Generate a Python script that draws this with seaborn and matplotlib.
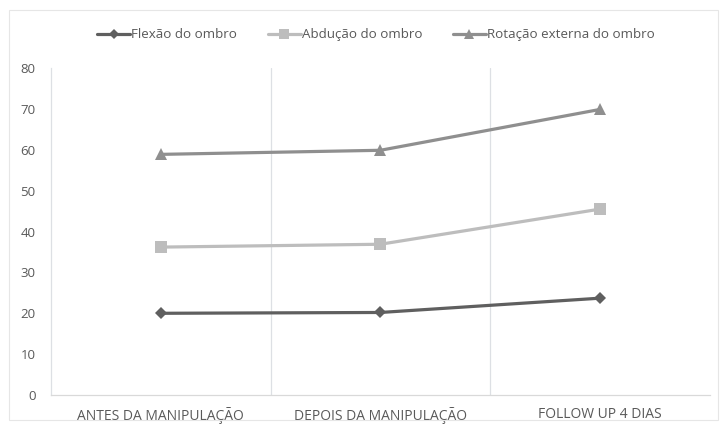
import matplotlib
matplotlib.use("Agg")
import matplotlib.pyplot as plt
from matplotlib.lines import Line2D
import seaborn as sns
import pandas as pd

categories = ["ANTES DA MANIPULAÇÃO", "DEPOIS DA MANIPULAÇÃO", "FOLLOW UP 4 DIAS"]
flexao = [20.0, 20.2, 23.7]
abducao = [36.2, 36.9, 45.5]
rotacao = [58.9, 59.9, 69.9]
series_names = ["Flexão do ombro", "Abdução do ombro", "Rotação externa do ombro"]

rows = []
for name, vals in zip(series_names, [flexao, abducao, rotacao]):
    for i, v in enumerate(vals):
        rows.append({"pos": i, "valor": v, "serie": name})
df = pd.DataFrame(rows)

sns.set_theme(style="white")
plt.rcParams["font.family"] = ["Open Sans", "DejaVu Sans"]

fig = plt.figure(figsize=(7.2, 4.25), dpi=100)
ax = fig.add_axes([0.0708, 0.0706, 0.915, 0.769])

palette = {series_names[0]: "#5f5f5f", series_names[1]: "#bdbdbd", series_names[2]: "#8f8f8f"}
markers = {series_names[0]: "D", series_names[1]: "s", series_names[2]: "^"}
sizes = {series_names[0]: 6, series_names[1]: 8, series_names[2]: 8}

sns.lineplot(data=df, x="pos", y="valor", hue="serie", style="serie",
             palette=palette, markers=markers, dashes=False,
             markersize=8, linewidth=2.3, markeredgewidth=0, ax=ax, legend=False)
for line, name in zip(ax.lines, series_names):
    line.set_markersize(sizes[name])

ax.set_xlim(-0.5, 2.5)
ax.set_ylim(0, 80)
ax.set_yticks(range(0, 81, 10))
ax.set_xticks(range(len(categories)))
ax.set_xticklabels(categories)
ax.set_xlabel("")
ax.set_ylabel("")

# category separators
for b in [0.5, 1.5]:
    ax.axvline(b, color="#dde0e4", linewidth=0.9, zorder=0)

for s in ["top", "right"]:
    ax.spines[s].set_visible(False)
ax.spines["left"].set_color("#dde0e4")
ax.spines["bottom"].set_color("#d9d9d9")
ax.spines["left"].set_linewidth(0.9)
ax.spines["bottom"].set_linewidth(0.9)

ax.tick_params(axis="both", length=0, colors="#595959", labelsize=9.5)
ax.tick_params(axis="x", pad=9)
ax.tick_params(axis="y", pad=11)
for lbl in ax.get_xticklabels():
    lbl.set_fontsize(10)

handles = [Line2D([], [], color=palette[n], marker=markers[n], markersize=sizes[n] - 1,
                  markeredgewidth=0, linewidth=2.3) for n in series_names]
fig.legend(handles, series_names, loc="center", bbox_to_anchor=(0.522, 0.918), ncol=3,
           frameon=False, fontsize=9.6, handlelength=2.5, handletextpad=0.05,
           columnspacing=2.3, labelcolor="#595959")

fig.patches.append(plt.Rectangle((0.012, 0.012), 0.985, 0.965, transform=fig.transFigure,
                                 fill=False, edgecolor="#e6e6e6", linewidth=0.8))

fig.savefig("out.png", dpi=100)
